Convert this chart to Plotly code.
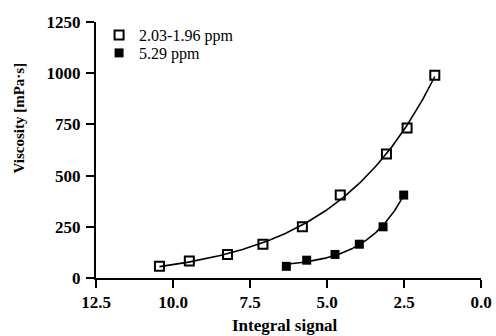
import numpy as np
import plotly.graph_objects as go

# Data
open_x = [10.44, 9.47, 8.23, 7.08, 5.80, 4.57, 3.07, 2.40, 1.50]
open_y = [57, 83, 115, 165, 250, 405, 606, 732, 990]
filled_x = [6.32, 5.66, 4.74, 3.95, 3.18, 2.51]
filled_y = [57, 87, 115, 165, 250, 405]
series_names = ["2.03-1.96 ppm", "5.29 ppm"]
x_ticks = [12.5, 10.0, 7.5, 5.0, 2.5, 0.0]
y_ticks = [0, 250, 500, 750, 1000, 1250]


def exp_fit(xs, ys):
    xs = np.asarray(xs, float)
    ys = np.asarray(ys, float)
    best = None
    for b in np.linspace(0.05, 1.5, 1500):
        A = np.vstack([np.exp(-b * xs), np.ones_like(xs)]).T
        coef, *_ = np.linalg.lstsq(A, ys, rcond=None)
        err = np.sum((A @ coef - ys) ** 2)
        if best is None or err < best[0]:
            best = (err, b, coef)
    _, b, (a, c) = best
    xf = np.linspace(xs.min(), xs.max(), 200)
    return xf, a * np.exp(-b * xf) + c


serif = "Liberation Serif, Times New Roman, serif"
fig = go.Figure()

for xs, ys in [(open_x, open_y), (filled_x, filled_y)]:
    xf, yf = exp_fit(xs, ys)
    fig.add_trace(go.Scatter(x=xf, y=yf, mode="lines", line=dict(color="black", width=1.6),
                             showlegend=False, hoverinfo="skip"))

fig.add_trace(go.Scatter(x=open_x, y=open_y, mode="markers", name=series_names[0], legend="legend",
                         marker=dict(symbol="square-open", size=9, color="black",
                                     line=dict(color="black", width=2))))
fig.add_trace(go.Scatter(x=filled_x, y=filled_y, mode="markers", name=series_names[1], legend="legend2",
                         marker=dict(symbol="square", size=9, color="black",
                                     line=dict(color="black", width=0))))

axis_common = dict(showgrid=False, zeroline=False, showline=True, linecolor="black", linewidth=2,
                   ticks="outside", ticklen=8, tickwidth=2, tickcolor="black", automargin=False,
                   tickfont=dict(family=serif, size=17, color="black"))

fig.update_xaxes(range=[12.5, 0.0], tickvals=x_ticks,
                 ticktext=[f"<b>{v:.1f}</b>" for v in x_ticks], **axis_common)
fig.update_yaxes(range=[0, 1250], tickvals=y_ticks,
                 ticktext=[f"<b>{v}</b>" for v in y_ticks], ticklabelstandoff=2, **axis_common)

fig.add_annotation(text="<b>Integral signal</b>", xref="paper", yref="paper", x=0.49, y=-0.187,
                   xanchor="center", yanchor="middle", showarrow=False,
                   font=dict(family=serif, size=17, color="black"))
fig.add_annotation(text="<b>Viscosity [mPa·s]</b>", xref="paper", yref="paper", x=-0.2, y=0.623,
                   xanchor="center", yanchor="middle", showarrow=False, textangle=-90,
                   font=dict(family=serif, size=15, color="black"))

leg_common = dict(xanchor="left", yanchor="middle", bgcolor="rgba(0,0,0,0)",
                  font=dict(family=serif, size=16, color="black"), itemwidth=30)
fig.update_layout(
    width=496, height=336,
    margin=dict(l=96, r=15, t=22, b=58, autoexpand=False),
    plot_bgcolor="white", paper_bgcolor="white",
    legend=dict(x=0.008, y=(278 - 35) / 256, **leg_common),
    legend2=dict(x=0.008, y=(278 - 53) / 256, **leg_common),
)

fig.write_html("out.html")
